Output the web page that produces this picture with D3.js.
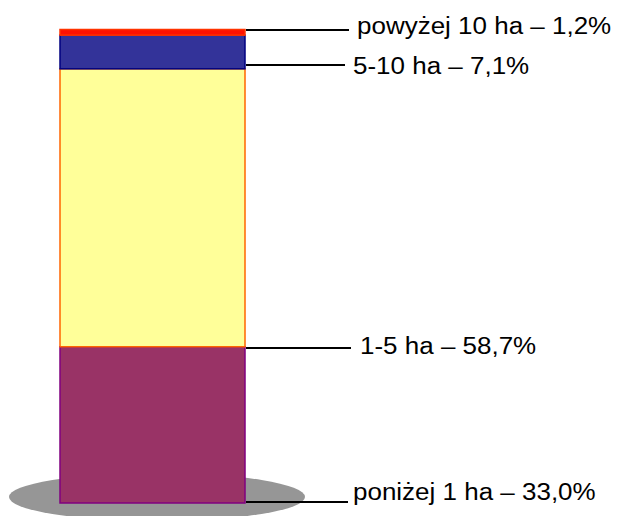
<!DOCTYPE html>
<html>
<head>
<meta charset="utf-8">
<script src="https://cdn.jsdelivr.net/npm/d3@7"></script>
<style>
  html, body { margin: 0; padding: 0; background: #fff; }
  svg { display: block; }
</style>
</head>
<body>
<div id="chart"></div>
<script>
// bottom to top
const categories = ["poniżej 1 ha", "1-5 ha", "5-10 ha", "powyżej 10 ha"];
const values = [33.0, 58.7, 7.1, 1.2];
const valueLabels = ["33,0%", "58,7%", "7,1%", "1,2%"];

const fills = ["#993366", "#FFFF99", "#333399", "#FF1100"];
const strokes = ["#800080", "#FF6600", "#000080", "#FF3300"];

var width = 617,
  height = 516,
  barLeft = 60,
  barRight = 245;

var svg = d3.select("#chart")
  .append("svg")
  .attr("width", width)
  .attr("height", height);

var y = d3.scaleLinear()
  .domain([0, d3.sum(values)])
  .range([503, 29.5]);

// stack values bottom-up
var stacked = [];
var acc = 0;
values.forEach((v, i) => {
  stacked.push({ cat: categories[i], v: v, lbl: valueLabels[i], y0: acc, y1: acc + v, i: i });
  acc += v;
});

// grey shadow under the bar
svg.append("ellipse")
  .attr("cx", 157)
  .attr("cy", 497)
  .attr("rx", 148)
  .attr("ry", 24)
  .attr("fill", "#969696");

svg.append("g")
  .selectAll("rect")
  .data(stacked)
  .enter().append("rect")
  .attr("x", barLeft)
  .attr("width", barRight - barLeft)
  .attr("y", d => y(d.y1))
  .attr("height", d => y(d.y0) - y(d.y1))
  .attr("fill", d => fills[d.i])
  .attr("stroke", d => strokes[d.i])
  .attr("stroke-width", 1.5);

// leader lines: start of segment, except the top one at its end
var lineEnd = [348, 351, 345, 349];
var lineNudge = [-1, 1, -3.7, 0.5];
var textShift = [-2, 6, 9, 4];
var textGap = [5, 9, 8, 8];
function lineY(d) {
  var base = d.i == values.length - 1 ? y(d.y1) : y(d.y0);
  return Math.round(base + lineNudge[d.i]);
}

var labels = svg.append("g").selectAll("g")
  .data(stacked)
  .enter().append("g");

labels.append("line")
  .attr("x1", barRight + 1)
  .attr("x2", d => lineEnd[d.i])
  .attr("y1", d => lineY(d))
  .attr("y2", d => lineY(d))
  .attr("stroke", "#000")
  .attr("stroke-width", 2);

labels.append("text")
  .attr("transform", d => "translate(" + (lineEnd[d.i] + textGap[d.i]) + "," + (lineY(d) + textShift[d.i]) + ") scale(1.13,1)")
  .attr("font-family", "Liberation Sans, Arial, sans-serif")
  .attr("font-size", 23)
  .attr("fill", "#000")
  .text(d => d.cat + " – " + d.lbl);
</script>
</body>
</html>
